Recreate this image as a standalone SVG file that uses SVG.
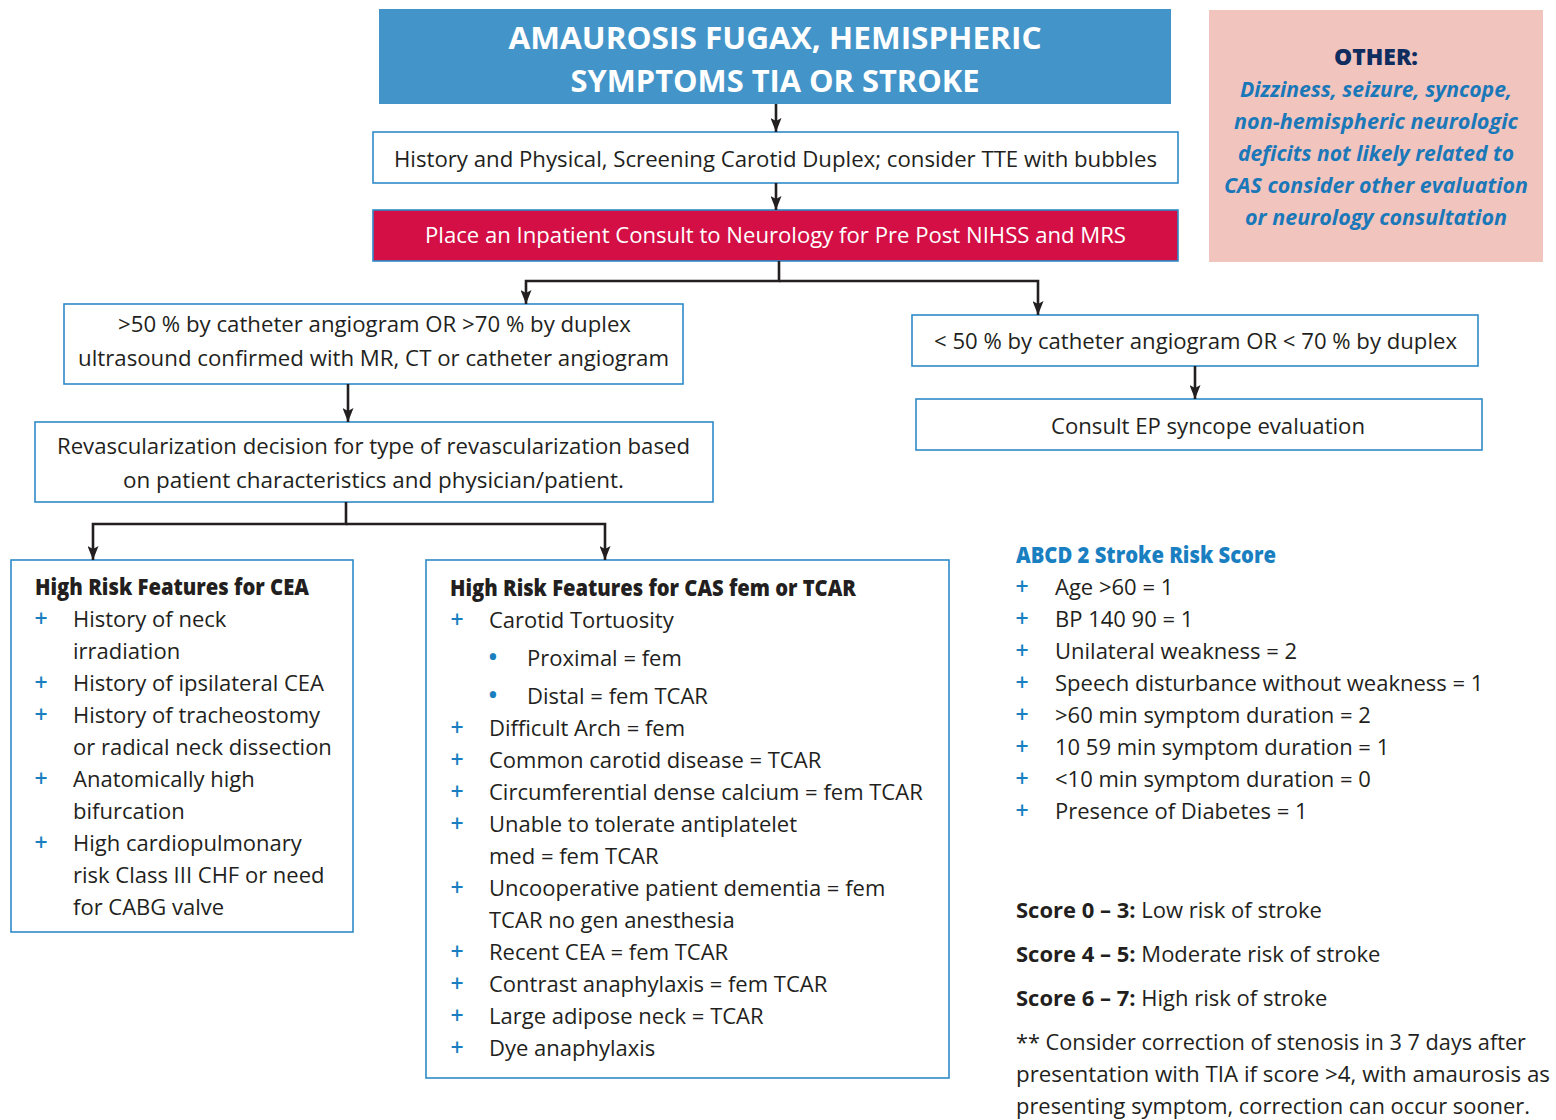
<svg xmlns="http://www.w3.org/2000/svg" width="1556" height="1120" viewBox="0 0 1556 1120">
<defs>
<marker id="arr" viewBox="0 0 14 11" refX="14" refY="5.5" markerWidth="14" markerHeight="11" markerUnits="userSpaceOnUse" orient="auto">
<path d="M0,0 L14,5.5 L0,11 L3,5.5 z" fill="#231f20"/>
</marker>
<style>
.box{fill:#fff;stroke:#2e8bc8;stroke-width:1.6}
.t{font-family:"Open Sans","Liberation Sans",sans-serif;font-size:22px;fill:#231f20}
.c{text-anchor:middle}
.h{font-family:"Open Sans","Liberation Sans",sans-serif;font-size:22px;font-weight:800;fill:#231f20}
.p{font-family:"Open Sans","Liberation Sans",sans-serif;font-size:23px;font-weight:600;fill:#1a7fc1;text-anchor:middle}
.w{fill:#fff}
.conn{fill:none;stroke:#231f20;stroke-width:2.6;marker-end:url(#arr)}
.oi{font-family:"Open Sans","Liberation Sans",sans-serif;font-size:22px;font-weight:700;font-style:italic;fill:#1a78b8;text-anchor:middle}
</style>
</defs>
<rect width="1556" height="1120" fill="#fff"/>

<g id="title">
<rect x="379" y="9" width="792" height="95" fill="#4395c9"/>
<text class="t c w" x="775" y="49" style="font-size:31px;font-weight:700" textLength="533" lengthAdjust="spacingAndGlyphs">AMAUROSIS FUGAX, HEMISPHERIC</text>
<text class="t c w" x="775" y="92" style="font-size:31px;font-weight:700" textLength="409" lengthAdjust="spacingAndGlyphs">SYMPTOMS TIA OR STROKE</text>
</g>

<g id="history">
<rect class="box" x="373" y="132" width="805" height="51"/>
<text class="t c" x="775.5" y="167" textLength="763" lengthAdjust="spacingAndGlyphs">History and Physical, Screening Carotid Duplex; consider TTE with bubbles</text>
</g>

<g id="consult-neuro">
<rect x="373" y="210" width="805" height="51" fill="#d30f45" stroke="#2e8bc8" stroke-width="1.6"/>
<text class="t c w" x="775.5" y="243" textLength="701" lengthAdjust="spacingAndGlyphs">Place an Inpatient Consult to Neurology for Pre Post NIHSS and MRS</text>
</g>

<g id="other">
<rect x="1209" y="10" width="334" height="252" fill="#f2c4be"/>
<text class="h c" x="1376" y="65" style="fill:#0f2d5e" textLength="84" lengthAdjust="spacingAndGlyphs">OTHER:</text>
<text class="oi" x="1376" y="97" textLength="272" lengthAdjust="spacingAndGlyphs">Dizziness, seizure, syncope,</text>
<text class="oi" x="1376" y="129" textLength="284" lengthAdjust="spacingAndGlyphs">non-hemispheric neurologic</text>
<text class="oi" x="1376" y="161" textLength="276" lengthAdjust="spacingAndGlyphs">deficits not likely related to</text>
<text class="oi" x="1376" y="193" textLength="304" lengthAdjust="spacingAndGlyphs">CAS consider other evaluation</text>
<text class="oi" x="1376" y="225" textLength="262" lengthAdjust="spacingAndGlyphs">or neurology consultation</text>
</g>

<g id="gt50">
<rect class="box" x="64" y="304" width="619" height="80"/>
<text class="t c" x="374.5" y="332" textLength="513" lengthAdjust="spacingAndGlyphs">&gt;50 % by catheter angiogram OR &gt;70 % by duplex</text>
<text class="t c" x="373.5" y="366" textLength="591" lengthAdjust="spacingAndGlyphs">ultrasound confirmed with MR, CT or catheter angiogram</text>
</g>

<g id="lt50">
<rect class="box" x="912" y="315" width="566" height="51"/>
<text class="t c" x="1195.5" y="349" textLength="523" lengthAdjust="spacingAndGlyphs">&lt; 50 % by catheter angiogram OR &lt; 70 % by duplex</text>
</g>

<g id="ep">
<rect class="box" x="916" y="399" width="566" height="51"/>
<text class="t c" x="1208" y="434" textLength="314" lengthAdjust="spacingAndGlyphs">Consult EP syncope evaluation</text>
</g>

<g id="revasc">
<rect class="box" x="35" y="422" width="678" height="80"/>
<text class="t c" x="373.5" y="454" textLength="633" lengthAdjust="spacingAndGlyphs">Revascularization decision for type of revascularization based</text>
<text class="t c" x="373.5" y="488" textLength="501" lengthAdjust="spacingAndGlyphs">on patient characteristics and physician/patient.</text>
</g>

<g id="cea">
<rect class="box" x="11" y="560" width="342" height="372"/>
<text class="h" x="35" y="595" textLength="274" lengthAdjust="spacingAndGlyphs">High Risk Features for CEA</text>
<text class="p" x="41" y="627">+</text><text class="t" x="73" y="627">History of neck</text>
<text class="t" x="73" y="659">irradiation</text>
<text class="p" x="41" y="691">+</text><text class="t" x="73" y="691">History of ipsilateral CEA</text>
<text class="p" x="41" y="723">+</text><text class="t" x="73" y="723">History of tracheostomy</text>
<text class="t" x="73" y="755">or radical neck dissection</text>
<text class="p" x="41" y="787">+</text><text class="t" x="73" y="787">Anatomically high</text>
<text class="t" x="73" y="819">bifurcation</text>
<text class="p" x="41" y="851">+</text><text class="t" x="73" y="851">High cardiopulmonary</text>
<text class="t" x="73" y="883">risk Class III CHF or need</text>
<text class="t" x="73" y="915">for CABG valve</text>
</g>

<g id="cas">
<rect class="box" x="426" y="560" width="523" height="518"/>
<text class="h" x="450" y="596" textLength="406" lengthAdjust="spacingAndGlyphs">High Risk Features for CAS fem or TCAR</text>
<text class="p" x="457" y="628">+</text><text class="t" x="489" y="628">Carotid Tortuosity</text>
<text class="p" x="493" y="666" style="font-size:26px">•</text><text class="t" x="527" y="666">Proximal = fem</text>
<text class="p" x="493" y="704" style="font-size:26px">•</text><text class="t" x="527" y="704">Distal = fem TCAR</text>
<text class="p" x="457" y="736">+</text><text class="t" x="489" y="736">Difficult Arch = fem</text>
<text class="p" x="457" y="768">+</text><text class="t" x="489" y="768">Common carotid disease = TCAR</text>
<text class="p" x="457" y="800">+</text><text class="t" x="489" y="800">Circumferential dense calcium = fem TCAR</text>
<text class="p" x="457" y="832">+</text><text class="t" x="489" y="832">Unable to tolerate antiplatelet</text>
<text class="t" x="489" y="864">med = fem TCAR</text>
<text class="p" x="457" y="896">+</text><text class="t" x="489" y="896">Uncooperative patient dementia = fem</text>
<text class="t" x="489" y="928">TCAR no gen anesthesia</text>
<text class="p" x="457" y="960">+</text><text class="t" x="489" y="960">Recent CEA = fem TCAR</text>
<text class="p" x="457" y="992">+</text><text class="t" x="489" y="992">Contrast anaphylaxis = fem TCAR</text>
<text class="p" x="457" y="1024">+</text><text class="t" x="489" y="1024">Large adipose neck = TCAR</text>
<text class="p" x="457" y="1056">+</text><text class="t" x="489" y="1056">Dye anaphylaxis</text>
</g>

<g id="abcd">
<text class="h" x="1016" y="563" style="fill:#1a7fc1" textLength="260" lengthAdjust="spacingAndGlyphs">ABCD 2 Stroke Risk Score</text>
<text class="p" x="1022" y="595">+</text><text class="t" x="1055" y="595">Age &gt;60 = 1</text>
<text class="p" x="1022" y="627">+</text><text class="t" x="1055" y="627">BP 140 90 = 1</text>
<text class="p" x="1022" y="659">+</text><text class="t" x="1055" y="659">Unilateral weakness = 2</text>
<text class="p" x="1022" y="691">+</text><text class="t" x="1055" y="691">Speech disturbance without weakness = 1</text>
<text class="p" x="1022" y="723">+</text><text class="t" x="1055" y="723">&gt;60 min symptom duration = 2</text>
<text class="p" x="1022" y="755">+</text><text class="t" x="1055" y="755">10 59 min symptom duration = 1</text>
<text class="p" x="1022" y="787">+</text><text class="t" x="1055" y="787">&lt;10 min symptom duration = 0</text>
<text class="p" x="1022" y="819">+</text><text class="t" x="1055" y="819">Presence of Diabetes = 1</text>
</g>

<g id="scores">
<text class="t" x="1016" y="918"><tspan font-weight="700">Score 0 – 3:</tspan> Low risk of stroke</text>
<text class="t" x="1016" y="962"><tspan font-weight="700">Score 4 – 5:</tspan> Moderate risk of stroke</text>
<text class="t" x="1016" y="1006"><tspan font-weight="700">Score 6 – 7:</tspan> High risk of stroke</text>
<text class="t" x="1016" y="1050" textLength="510" lengthAdjust="spacingAndGlyphs">** Consider correction of stenosis in 3 7 days after</text>
<text class="t" x="1016" y="1082" textLength="534" lengthAdjust="spacingAndGlyphs">presentation with TIA if score &gt;4, with amaurosis as</text>
<text class="t" x="1016" y="1114" textLength="514" lengthAdjust="spacingAndGlyphs">presenting symptom, correction can occur sooner.</text>
</g>

<g id="connectors">
<path class="conn" d="M776,104 V132"/>
<path class="conn" d="M776,183 V210"/>
<path class="conn" d="M779,261 V281 H526 V304"/>
<path class="conn" d="M779,281 H1038 V315"/>
<path class="conn" d="M348,384 V422"/>
<path class="conn" d="M346,502 V524 H93 V560"/>
<path class="conn" d="M346,524 H605 V560"/>
<path class="conn" d="M1195,366 V399"/>
</g>
</svg>
